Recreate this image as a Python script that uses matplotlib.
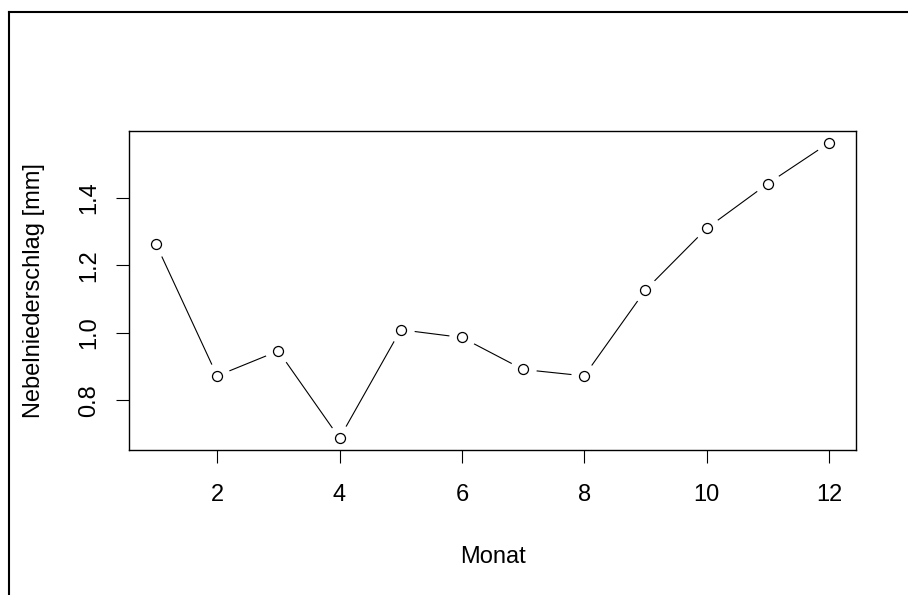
import matplotlib
matplotlib.use("Agg")
import matplotlib.pyplot as plt
from matplotlib.lines import Line2D

plt.rcParams['font.family'] = ['Liberation Sans', 'DejaVu Sans']

# monthly fog precipitation
monat = [1, 2, 3, 4, 5, 6, 7, 8, 9, 10, 11, 12]
niederschlag = [1.264, 0.872, 0.946, 0.687, 1.009, 0.986, 0.891, 0.872, 1.127, 1.310, 1.443, 1.564]
xticks = [2, 4, 6, 8, 10, 12]
yticks = [0.8, 1.0, 1.2, 1.4]
ytick_labels = ['0.8', '1.0', '1.2', '1.4']

W, H = 908, 595
fig = plt.figure(figsize=(W / 100, H / 100), dpi=100)
ax = fig.add_axes([129 / W, (H - 450) / H, (856 - 129) / W, (450 - 131) / H])

# R style ranges: data range plus 4% each side
def r_lim(v):
    lo, hi = min(v), max(v)
    d = (hi - lo) * 0.04
    return lo - d, hi + d

ax.set_xlim(r_lim(monat))
ax.set_ylim(r_lim(niederschlag))

# type="b": line with gaps around the open circles
ax.plot(monat, niederschlag, color='black', lw=0.8, zorder=1)
ax.plot(monat, niederschlag, ls='none', marker='o', ms=19, mfc='white', mec='none', zorder=1.5)
ax.plot(monat, niederschlag, ls='none', marker='o', ms=7.2, mfc='white', mec='black', mew=0.9, zorder=3)

ax.set_xticks(xticks)
ax.set_xticklabels([str(t) for t in xticks])
ax.set_yticks(yticks)
ax.set_yticklabels(ytick_labels, rotation=90, va='center')
ax.tick_params(axis='both', length=9.5, width=0.8, labelsize=17)
ax.tick_params(axis='x', pad=15)
ax.tick_params(axis='y', pad=11)
for s in ax.spines.values():
    s.set_linewidth(1.0)

ax.set_xlabel('Monat', fontsize=17, va='baseline')
ax.xaxis.set_label_coords(0.5, (450 - 563) / (450 - 131))
ax.set_ylabel('Nebelniederschlag [mm]', fontsize=17, va='baseline')
ax.yaxis.set_label_coords((40 - 129) / (856 - 129), 0.5)

# outer frame (top and left edges visible)
fx, fy = 9 / W, 1 - 12 / H
fig.add_artist(Line2D([fx, fx], [0, fy], transform=fig.transFigure, color='black', lw=1.5))
fig.add_artist(Line2D([fx, 1], [fy, fy], transform=fig.transFigure, color='black', lw=1.5))

fig.savefig('out.png', dpi=100)
